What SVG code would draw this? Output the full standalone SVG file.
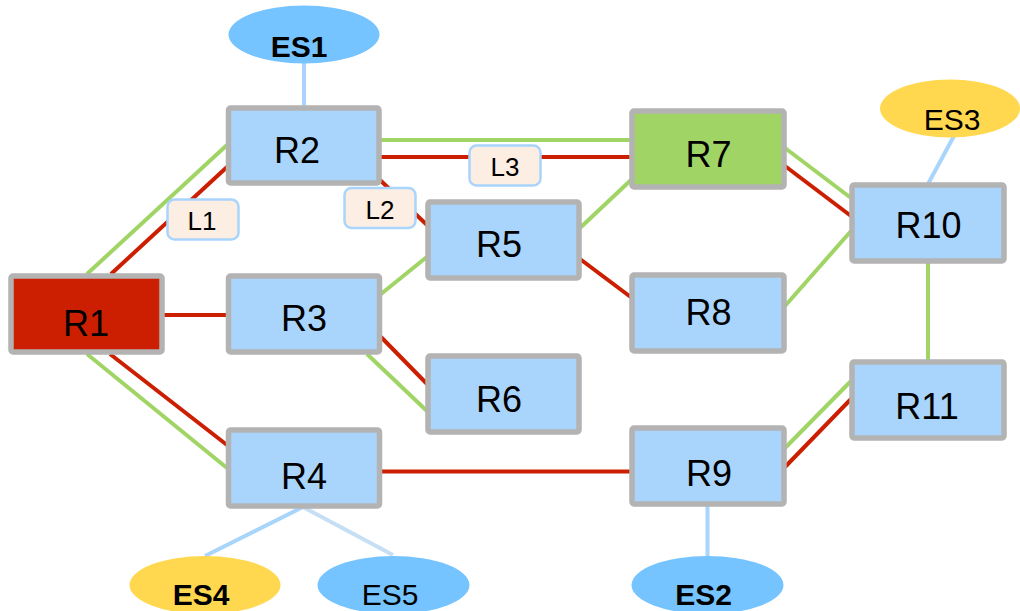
<svg xmlns="http://www.w3.org/2000/svg" width="1020" height="611" viewBox="0 0 1020 611">
<style>
.node rect{stroke:#B3B3B3;stroke-width:5.5}
.rt{fill:#A9D5FD}
.rtxt{font-family:"Liberation Sans",Arial,sans-serif;font-size:36px;fill:#000;text-anchor:middle}
.es{font-family:"Liberation Sans",Arial,sans-serif;font-size:30px;fill:#000;text-anchor:middle}
.b{font-weight:bold}
.g{stroke:#A0D565;stroke-width:4;fill:none}
.r{stroke:#CC1E00;stroke-width:4;fill:none}
.lb{stroke:#A9D5FD;stroke-width:4;fill:none}
.lbl rect{fill:#FDEEE3;stroke:#A9D5FD;stroke-width:2.5}
.lbl text{font-family:"Liberation Sans",Arial,sans-serif;font-size:26px;fill:#000;text-anchor:middle}
</style>
<rect width="1020" height="611" fill="#fff"/>
<g id="connectors">
<line class="lb" x1="304" y1="63" x2="304" y2="108"/>
<line class="lb" x1="954" y1="136" x2="928" y2="184"/>
<line class="lb" x1="303" y1="507" x2="205" y2="556"/>
<line x1="303" y1="507" x2="393" y2="555" stroke="#C6DFF5" stroke-width="4"/>
<line class="lb" x1="707.5" y1="506" x2="707.5" y2="557"/>
<line class="g" x1="87" y1="274" x2="227" y2="145"/>
<line class="r" x1="111" y1="274" x2="227" y2="167"/>
<line class="r" x1="163" y1="315" x2="228" y2="315"/>
<line class="r" x1="110" y1="354" x2="227" y2="445"/>
<line class="g" x1="87" y1="354" x2="227" y2="468"/>
<line class="g" x1="380" y1="140" x2="632" y2="140"/>
<line class="r" x1="380" y1="157" x2="632" y2="157"/>
<line class="r" x1="380" y1="180" x2="427" y2="225"/>
<line class="g" x1="381" y1="294" x2="428" y2="256"/>
<line class="r" x1="381" y1="337" x2="428" y2="385"/>
<line class="g" x1="367" y1="354" x2="428" y2="412"/>
<line class="g" x1="580" y1="228" x2="632" y2="179"/>
<line class="r" x1="580" y1="259" x2="632" y2="298"/>
<line class="r" x1="380" y1="471.5" x2="632" y2="471.5"/>
<line class="g" x1="785" y1="148" x2="851" y2="198"/>
<line class="r" x1="785" y1="166" x2="851" y2="216"/>
<line class="g" x1="785" y1="306" x2="851" y2="231"/>
<line class="g" x1="928" y1="261" x2="928" y2="362"/>
<line class="g" x1="785" y1="448" x2="851" y2="381"/>
<line class="r" x1="785" y1="467" x2="851" y2="399"/>
</g>
<g id="L1" class="lbl"><rect x="167.5" y="199.5" width="71" height="40" rx="7"/><text x="202" y="230">L1</text></g>
<g id="L2" class="lbl"><rect x="344.5" y="188" width="71" height="40" rx="7"/><text x="380" y="218.5">L2</text></g>
<g id="L3" class="lbl"><rect x="469.5" y="145.5" width="71" height="40" rx="7"/><text x="505" y="176">L3</text></g>
<g id="R1" class="node"><rect x="11" y="276" width="151" height="76" rx="2" fill="#CC1E00"/><text class="rtxt" x="86" y="336">R1</text></g>
<g id="R2" class="node"><rect class="rt" x="228.5" y="108" width="150.5" height="75" rx="2"/><text class="rtxt" x="297" y="163">R2</text></g>
<g id="R3" class="node"><rect class="rt" x="228.5" y="276" width="151" height="76" rx="2"/><text class="rtxt" x="304" y="331">R3</text></g>
<g id="R4" class="node"><rect class="rt" x="228.5" y="430" width="151" height="76" rx="2"/><text class="rtxt" x="304" y="489">R4</text></g>
<g id="R5" class="node"><rect class="rt" x="428" y="202" width="151" height="76" rx="2"/><text class="rtxt" x="499" y="257">R5</text></g>
<g id="R6" class="node"><rect class="rt" x="428" y="356" width="151" height="76" rx="2"/><text class="rtxt" x="499" y="412">R6</text></g>
<g id="R7" class="node"><rect x="632" y="111" width="152" height="76" rx="2" fill="#A0D565"/><text class="rtxt" x="708.5" y="167">R7</text></g>
<g id="R8" class="node"><rect class="rt" x="632" y="275" width="152" height="76" rx="2"/><text class="rtxt" x="708.5" y="325">R8</text></g>
<g id="R9" class="node"><rect class="rt" x="632" y="428" width="152" height="76" rx="2"/><text class="rtxt" x="709" y="486">R9</text></g>
<g id="R10" class="node"><rect class="rt" x="852" y="185" width="152" height="76" rx="2"/><text class="rtxt" x="928.5" y="238">R10</text></g>
<g id="R11" class="node"><rect class="rt" x="852" y="362" width="152" height="76" rx="2"/><text class="rtxt" x="927" y="419">R11</text></g>
<g id="ES1"><ellipse cx="304" cy="34.5" rx="75.5" ry="29" fill="#75C4FF"/><text class="es b" x="299" y="56.5">ES1</text></g>
<g id="ES3"><ellipse cx="950" cy="108.5" rx="70" ry="29" fill="#FFD84F"/><text class="es" x="952" y="130">ES3</text></g>
<g id="ES4"><ellipse cx="205" cy="585" rx="75.5" ry="29" fill="#FFD84F"/><text class="es b" x="201" y="605">ES4</text></g>
<g id="ES5"><ellipse cx="393.5" cy="585" rx="76" ry="29" fill="#75C4FF"/><text class="es" x="390" y="605">ES5</text></g>
<g id="ES2"><ellipse cx="707.5" cy="585" rx="76" ry="29" fill="#75C4FF"/><text class="es b" x="703.5" y="605">ES2</text></g>
</svg>
